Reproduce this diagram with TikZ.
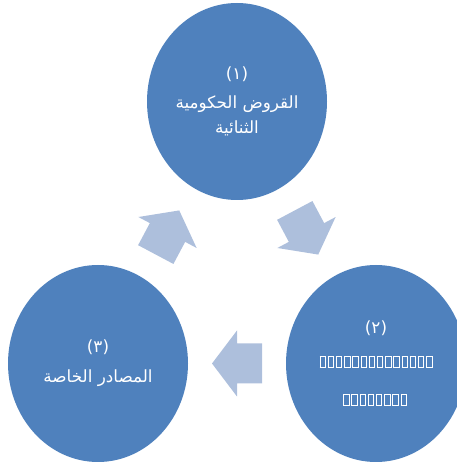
\documentclass[tikz,border=0pt]{standalone}
\usepackage{xcolor}
\usepackage{fontspec}
\usepackage{tikz}
\usetikzlibrary{shapes,arrows,calc}
\newfontfamily\arabicfont[Script=Arabic]{DejaVu Sans}
\TeXXeTstate=1
\definecolor{stageblue}{HTML}{4F81BD}
\definecolor{turnblue}{HTML}{ADBFDC}
\newcommand\tofu{{\setlength\fboxsep{0pt}\setlength\fboxrule{1pt}\fbox{\rule{0pt}{10pt}\hspace{4.4pt}}}\hspace{1.8pt}}
\newcommand\tofurow[1]{\foreach \k in {1,...,#1}{\tofu}\hspace{-1.8pt}}

\begin{document}
\begin{tikzpicture}[x=1pt,y=1pt,
  stage/.style={ellipse,fill=stageblue,minimum width=180pt,minimum height=197pt,inner sep=0pt,text=white,align=center,font=\arabicfont\fontsize{16.8}{25}\selectfont},
  turn/.pic={\fill[turnblue] (-25,-20) -- (0,-20) -- (0,-33) -- (25,0) -- (0,33) -- (0,20) -- (-25,20) -- cycle;}]
\useasboundingbox (0,0) rectangle (457,464);
\clip (0,0) rectangle (457,464);
\node [stage] (s1) at (237,362.5) {\beginR(١)\endR\\[4pt]\beginR القروض الحكومية\endR\\\beginR الثنائية\endR};
\node [stage] (s2) at (376,100.5) {\beginR(٢)\endR\\[9pt]\tofurow{14}\\[13pt]\tofurow{8}};
\node [stage] (s3) at (98,100.5) {\beginR(٣)\endR\\[5pt]\beginR المصادر الخاصة\endR};
\pic [rotate=62] (a1) at ($(s3)!0.5!(s1)$) {turn};
\pic [rotate=-62] (a2) at ($(s1)!0.5!(s2)$) {turn};
\pic [rotate=180] (a3) at ($(s2)!0.5!(s3)$) {turn};
\end{tikzpicture}
\end{document}
